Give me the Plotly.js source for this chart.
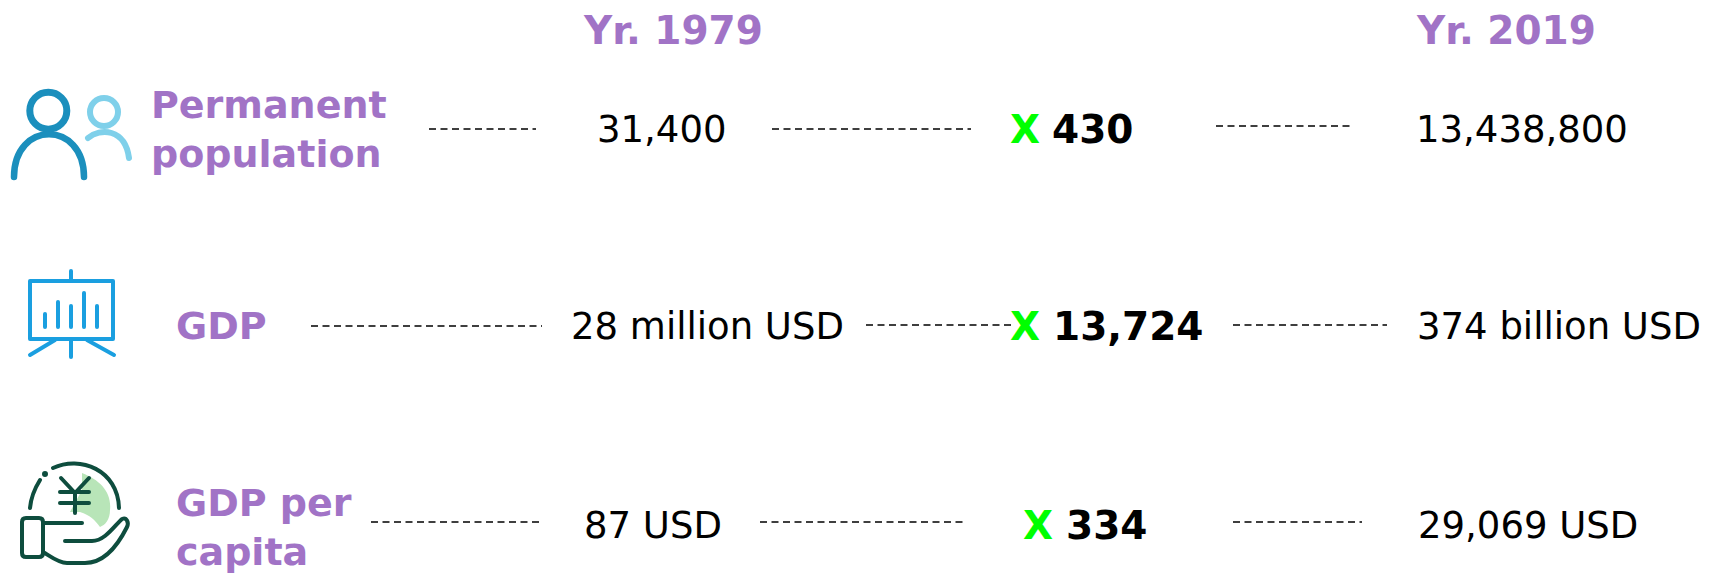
<!DOCTYPE html>
<html><head><meta charset="utf-8">
<script src="https://cdn.plot.ly/plotly-3.0.1.min.js"></script>
<style>html,body{margin:0;padding:0;background:#fff}#c{width:1715px;height:573px}
.shapelayer path{stroke-linecap:round;stroke-linejoin:round}</style></head>
<body><div id="c"></div>
<script>
// Content
const years = ["Yr. 1979", "Yr. 2019"];
const metrics = ["Permanent<br>population", "GDP", "GDP per<br>capita"];
const values1979 = ["31,400", "28 million USD", "87 USD"];
const multipliers = ["430", "13,724", "334"];
const values2019 = ["13,438,800", "374 billion USD", "29,069 USD"];

// Layout
const PURPLE = "#a173c6", GREEN = "#00ff00", FONT = "DejaVu Sans";
const rowY = [129, 326, 525];
const ann = [];
function t(text, x, y, size, color, bold, anchor) {
  ann.push({text: bold ? "<b>" + text + "</b>" : text, x, y, xref: "x", yref: "y", showarrow: false,
    xanchor: anchor || "center", yanchor: "middle", align: "left",
    font: {family: FONT, size, color}});
}
const HEAD = 39, LABEL = 38, VAL = 37, MUL = 39;
t(years[0], 673, 30, HEAD, PURPLE, true);
t(years[1], 1506, 30, HEAD, PURPLE, true);
t(metrics[0], 149, 129, LABEL, PURPLE, true, "left");
t(metrics[1], 174, 326, LABEL, PURPLE, true, "left");
t(metrics[2], 174, 527, LABEL, PURPLE, true, "left");
[661, 707, 653].forEach((x, i) => t(values1979[i], x, rowY[i], VAL, "#000", false));
[1522, 1559, 1528].forEach((x, i) => t(values2019[i], x, rowY[i], VAL, "#000", false));
[[1025, 1092], [1025, 1128], [1038, 1106]].forEach((p, i) => {
  t("X", p[0], rowY[i], MUL, GREEN, true);
  t(multipliers[i], p[1], rowY[i], MUL, "#000", true);
});

// Leader lines
const leaders = [
  [429, 536, 129], [772, 971, 129], [1216, 1351, 126],
  [311, 542, 326], [866, 1012, 325], [1233, 1387, 325],
  [371, 542, 522], [760, 965, 522], [1233, 1362, 522]
];
const traces = leaders.map(l => ({
  type: "scatter", mode: "lines", x: [l[0], l[1]], y: [l[2], l[2]], hoverinfo: "skip",
  line: {color: "#000", width: 1.5, dash: "7px,4.5px"}
}));

// Icons
function p(path, color, width, fill) {
  return {type: "path", path, xref: "x", yref: "y", layer: "above",
    line: {color, width: width || 0}, fillcolor: fill || "rgba(0,0,0,0)"};
}
function circle(cx, cy, r) {
  const k = 0.5523 * r;
  return `M${cx - r},${cy} C${cx - r},${cy - k} ${cx - k},${cy - r} ${cx},${cy - r} ` +
    `C${cx + k},${cy - r} ${cx + r},${cy - k} ${cx + r},${cy} ` +
    `C${cx + r},${cy + k} ${cx + k},${cy + r} ${cx},${cy + r} ` +
    `C${cx - k},${cy + r} ${cx - r},${cy + k} ${cx - r},${cy} Z`;
}
const B1 = "#1b8fbd", B2 = "#7fd0ea", B3 = "#1a9fe0", G1 = "#0e4d3e", G2 = "#b8e5b8";
const shapes = [
  // people
  p(circle(48.3, 110.7, 18.5), B1, 7),
  p("M14,177 C14,120 84,120 84,177", B1, 6.5),
  p(circle(104, 112, 14), B2, 6),
  p("M88,138 C100,128 125,128 129,158", B2, 6),
  // board
  p("M30,281 L113,281 L113,339 L30,339 Z", B3, 4),
  p("M71,271 L71,281", B3, 4),
  p("M45,314 L45,327", B3, 4), p("M58,302 L58,327", B3, 4), p("M71,306 L71,327", B3, 4),
  p("M84,293 L84,327", B3, 4), p("M97,306 L97,327", B3, 4),
  p("M71,339 L71,357", B3, 4), p("M55,340 L30,355", B3, 4), p("M87,340 L114,355", B3, 4),
  // coin in hand
  p("M82,473 C100,480 112,492 110,510 C110,520 105,525 100,527 C95,520 90,515 80,512 L70,512 L82,490 Z", G2, 0, G2),
  p("M53,468 C80,455 118,470 119,508", G1, 4),
  p("M30,508 C31,497 35,488 40,480", G1, 4),
  p(circle(45, 474, 1.5), G1, 3, G1),
  p("M61,478 L75,493 L89,478", G1, 4),
  p("M60,492 L89,492", G1, 4), p("M60,503 L89,503", G1, 4), p("M75,493 L75,513", G1, 4),
  p("M26,518 L39,518 Q43,518 43,522 L43,553 Q43,557 39,557 L26,557 Q22,557 22,553 L22,522 Q22,518 26,518 Z", G1, 4),
  p("M43,523 L82,523", G1, 4),
  p("M65,541 L92,541 C105,541 115,525 122,519 C127,517 129,523 127,527 C118,545 105,563 85,563 L67,563 C58,563 50,556 43,552", G1, 4)
];

Plotly.newPlot("c", traces, {
  width: 1715, height: 573, margin: {l: 0, r: 0, t: 0, b: 0}, showlegend: false,
  paper_bgcolor: "#fff", plot_bgcolor: "#fff",
  xaxis: {range: [0, 1715], visible: false, fixedrange: true},
  yaxis: {range: [573, 0], visible: false, fixedrange: true},
  annotations: ann, shapes
}, {staticPlot: true, displayModeBar: false});
</script></body></html>
